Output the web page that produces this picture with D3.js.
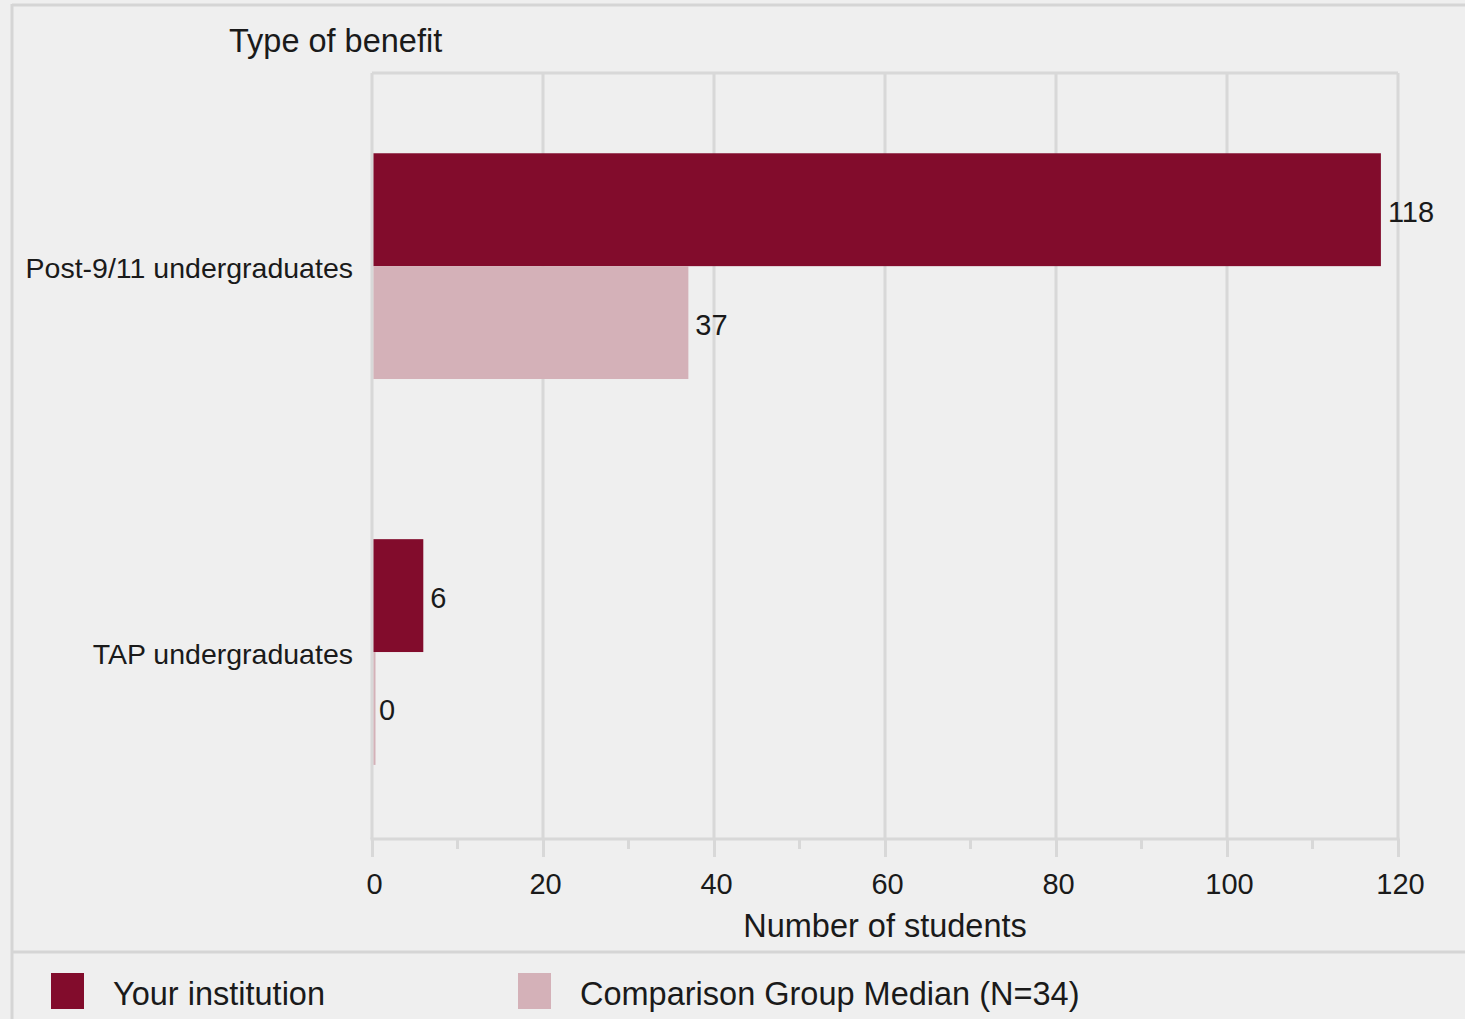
<!DOCTYPE html>
<html>
<head>
<meta charset="utf-8">
<script src="https://cdn.jsdelivr.net/npm/d3@7/dist/d3.min.js"></script>
<style>
  html, body { margin: 0; padding: 0; background: #efefef; }
  svg { display: block; font-family: "Liberation Sans", Arial, sans-serif; }
</style>
</head>
<body>
<svg id="chart" width="1465" height="1019"></svg>
<script>
const categories = ["Post-9/11 undergraduates", "TAP undergraduates"];
const seriesNames = ["Your institution", "Comparison Group Median (N=34)"];
const yourInstitution = [118, 6];
const comparisonMedian = [37, 0];
const xTicks = [0, 20, 40, 60, 80, 100, 120];
const colors = ["#820c2c", "#d4b1b8"];

const svg = d3.select("#chart");
const W = 1465, H = 1019;
const plot = { left: 372, right: 1398, top: 73, bottom: 839 };

svg.append("rect").attr("width", W).attr("height", H).attr("fill", "#efefef");
// outer frame
svg.append("line").attr("x1", 12).attr("x2", W).attr("y1", 5).attr("y2", 5)
  .attr("stroke", "#d5d5d5").attr("stroke-width", 3);
svg.append("line").attr("x1", 12).attr("x2", 12).attr("y1", 4).attr("y2", H)
  .attr("stroke", "#d5d5d5").attr("stroke-width", 3);
// legend separator
svg.append("line").attr("x1", 12).attr("x2", W).attr("y1", 952).attr("y2", 952)
  .attr("stroke", "#d5d5d5").attr("stroke-width", 3);

const x = d3.scaleLinear().domain([0, 120]).range([plot.left, plot.right]);
const y0 = d3.scaleBand().domain(categories).range([plot.top, plot.bottom])
  .paddingInner(0.415).paddingOuter(0.2).align(0.52);
const y1 = d3.scaleBand().domain([0, 1]).range([0, y0.bandwidth()]);

const gridColor = "#d8d8d8";
// gridlines
svg.append("g").selectAll("line").data(xTicks).join("line")
  .attr("x1", d => x(d)).attr("x2", d => x(d))
  .attr("y1", plot.top).attr("y2", plot.bottom)
  .attr("stroke", gridColor).attr("stroke-width", 3);
// top border of plot
svg.append("line").attr("x1", plot.left).attr("x2", plot.right)
  .attr("y1", plot.top).attr("y2", plot.top)
  .attr("stroke", gridColor).attr("stroke-width", 3);

// x axis
const axis = svg.append("g").attr("transform", `translate(0,${plot.bottom})`)
  .call(d3.axisBottom(x).tickValues(xTicks).tickSize(18).tickPadding(20));
axis.select(".domain").attr("stroke", gridColor).attr("stroke-width", 3)
  .attr("d", `M${plot.left - 1.5},0H${plot.right + 1.5}`);
axis.selectAll(".tick line").attr("stroke", gridColor).attr("stroke-width", 3);
axis.selectAll(".tick text").attr("font-size", 29).attr("fill", "#1a1a1a")
  .attr("font-family", "Liberation Sans, Arial, sans-serif").attr("dy", "0.6em")
  .attr("dx", 2);
// minor ticks
const minor = d3.range(10, 120, 20);
svg.append("g").selectAll("line").data(minor).join("line")
  .attr("x1", d => x(d)).attr("x2", d => x(d))
  .attr("y1", plot.bottom).attr("y2", plot.bottom + 10)
  .attr("stroke", gridColor).attr("stroke-width", 3);

// axis title
svg.append("text").attr("x", (plot.left + plot.right) / 2).attr("y", 937)
  .attr("text-anchor", "middle").attr("font-size", 32.5).attr("fill", "#1a1a1a")
  .text("Number of students");
// y title
svg.append("text").attr("x", 229).attr("y", 52)
  .attr("font-size", 32.5).attr("fill", "#1a1a1a").text("Type of benefit");

// category labels
svg.append("g").selectAll("text").data(categories).join("text")
  .attr("x", 353).attr("y", d => y0(d) + y0.bandwidth() / 2 + 12)
  .attr("text-anchor", "end").attr("font-size", 28.5).attr("fill", "#1a1a1a")
  .text(d => d);

// bars
const rows = categories.map((c, i) => ({ c, vals: [yourInstitution[i], comparisonMedian[i]] }));
const groups = svg.append("g").selectAll("g").data(rows).join("g")
  .attr("transform", d => `translate(0,${y0(d.c)})`);
groups.selectAll("rect").data(d => d.vals.map((v, k) => ({ v, k }))).join("rect")
  .attr("x", x(0) + 1.5).attr("y", d => y1(d.k))
  .attr("width", d => Math.max(2, x(d.v) - x(0) - 1.5))
  .attr("height", y1.bandwidth())
  .attr("fill", d => colors[d.k]);
groups.selectAll("text").data(d => d.vals.map((v, k) => ({ v, k }))).join("text")
  .attr("x", d => x(d.v) + 7).attr("y", d => y1(d.k) + y1.bandwidth() / 2 + 12)
  .attr("font-size", 29).attr("fill", "#1a1a1a")
  .text(d => d.v);

// legend
const legendX = [51, 518];
const leg = svg.append("g").selectAll("g").data(seriesNames).join("g")
  .attr("transform", (d, i) => `translate(${legendX[i]},973)`);
leg.append("rect").attr("width", 33).attr("height", 36)
  .attr("fill", (d, i) => colors[i]);
leg.append("text").attr("x", 62).attr("y", 32).attr("font-size", 32.5)
  .attr("fill", "#1a1a1a").text(d => d);
</script>
</body>
</html>
